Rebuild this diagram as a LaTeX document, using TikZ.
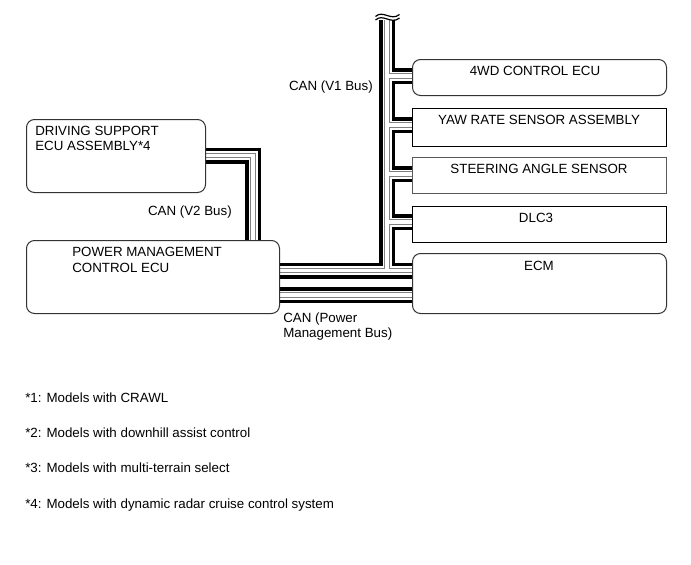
\documentclass[tikz,border=0pt]{standalone}
\usepackage{fontspec}
\setmainfont{Liberation Sans}
\usetikzlibrary{calc}
\begin{document}
\begin{tikzpicture}[x=0.75pt,y=-0.75pt,
  rbox/.style={draw=black!80,fill=white,rounded corners=6pt,line width=0.75pt,inner sep=0pt,anchor=north west},
  sbox/.style={draw=black,fill=white,line width=0.75pt,inner sep=0pt,anchor=north west},
  gbox/.style={draw=black!65,fill=white,line width=0.75pt,inner sep=0pt,anchor=north west},
  lbl/.style={anchor=base west,inner sep=0pt,font=\fontsize{10pt}{12pt}\selectfont},
  clbl/.style={anchor=base,inner sep=0pt,font=\fontsize{10pt}{12pt}\selectfont},
  rlbl/.style={anchor=base east,inner sep=0pt,font=\fontsize{10pt}{12pt}\selectfont},
  brk/.style={line width=0.9pt,draw=black}]
\useasboundingbox (0,0) rectangle (691,564);

% junction coordinates
\coordinate (v2a) at (200,155.5);
\coordinate (v2b) at (253,155.5);
\coordinate (v2c) at (253,244);
\coordinate (top) at (387,19.5);
\coordinate (tb) at (387,270.5);
\coordinate (j1) at (387,76);
\coordinate (j2) at (387,125);
\coordinate (j3) at (387,174);
\coordinate (j4) at (387,222);
\coordinate (pb) at (387,295);

% cables: layered strokes
\foreach \w/\c in {12pt/black,6.75pt/white,4pt/black!50,2.4pt/white}{
  \draw[line width=\w,draw=\c,line join=miter] (v2a) -- (v2b) -- (v2c);
  \draw[line width=\w,draw=\c] (top) -- (tb);
  \draw[line width=\w,draw=\c] (j1) -- (416,76);
  \draw[line width=\w,draw=\c] (j2) -- (416,125);
  \draw[line width=\w,draw=\c] (j3) -- (416,174);
  \draw[line width=\w,draw=\c] (j4) -- (416,222);
  \draw[line width=\w,draw=\c] (275,270.5) -- (416,270.5);
  \draw[line width=\w,draw=\c] (275,295) -- (416,295);
}

% break mark
\draw[brk] (375.5,16.5) .. controls (383,9.5) and (391,21.5) .. (399.5,14.5);
\draw[brk] (375.5,20) .. controls (383,13) and (391,25) .. (399.5,18);

% boxes
\node[rbox,minimum width=179*0.75pt,minimum height=73*0.75pt] (ds) at (26,119) {};
\node[rbox,minimum width=253*0.75pt,minimum height=73*0.75pt] (pm) at (26,240) {};
\node[rbox,minimum width=254*0.75pt,minimum height=36*0.75pt] (wd) at (412,59) {};
\node[sbox,minimum width=254*0.75pt,minimum height=38*0.75pt] (yaw) at (412,108) {};
\node[gbox,minimum width=254*0.75pt,minimum height=36*0.75pt] (sas) at (412,157) {};
\node[sbox,minimum width=254*0.75pt,minimum height=36*0.75pt] (dlc) at (412,206) {};
\node[rbox,minimum width=254*0.75pt,minimum height=60*0.75pt] (ecm) at (412,253) {};

% box texts
\node[lbl] (tds1) at (35,135.5) {DRIVING SUPPORT};
\node[lbl] (tds2) at (35,150.5) {ECU ASSEMBLY*4};
\node[lbl] (tpm1) at (72,256.5) {POWER MANAGEMENT};
\node[lbl] (tpm2) at (72,272) {CONTROL ECU};
\node[clbl] (twd) at (535,75) {4WD CONTROL ECU};
\node[clbl] (tyaw) at (539,124) {YAW RATE SENSOR ASSEMBLY};
\node[clbl] (tsas) at (539,173) {STEERING ANGLE SENSOR};
\node[clbl] (tdlc) at (536,222) {DLC3};
\node[clbl] (tecm) at (539,270) {ECM};

% bus labels
\node[rlbl] (lv1) at (373,90) {CAN (V1 Bus)};
\node[rlbl] (lv2) at (232,215) {CAN (V2 Bus)};
\node[lbl] (lpm1) at (283,322) {CAN (Power};
\node[lbl] (lpm2) at (283,337) {Management Bus)};

% footnotes
\node[lbl] (f1) at (25,402) {*1: Models with CRAWL};
\node[lbl] (f2) at (25,437) {*2: Models with downhill assist control};
\node[lbl] (f3) at (25,472) {*3: Models with multi-terrain select};
\node[lbl] (f4) at (25,508) {*4: Models with dynamic radar cruise control system};
\end{tikzpicture}
\end{document}
